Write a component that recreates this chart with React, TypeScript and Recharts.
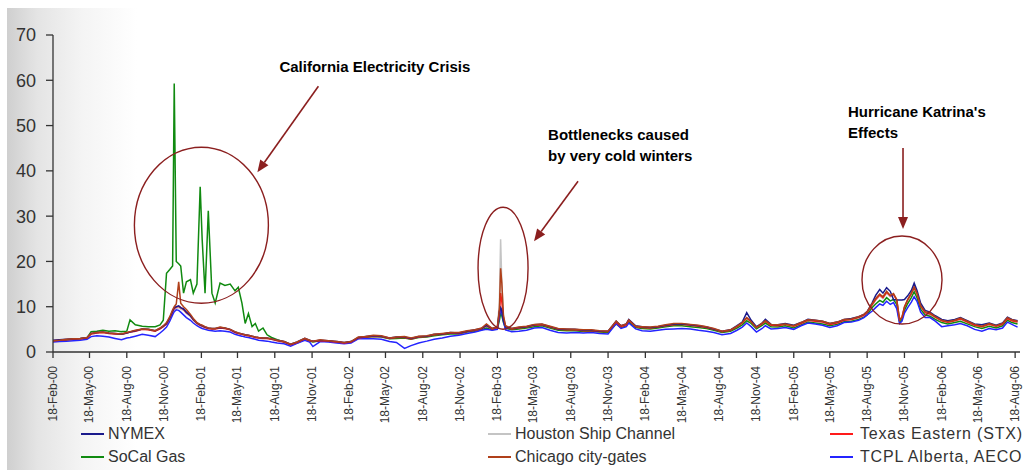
import { LineChart, Line, XAxis, YAxis, Legend, ReferenceDot } from "recharts";

// Sample dates (denser around the price spikes)
const dates = [
  // 2000
  "2000-02-18", "2000-03-05", "2000-03-22", "2000-04-08", "2000-04-25", "2000-05-12", "2000-05-22", "2000-06-05", "2000-06-20",
  "2000-07-05", "2000-07-20", "2000-08-05", "2000-08-18", "2000-08-26", "2000-09-08", "2000-09-25", "2000-10-10", "2000-10-27",
  "2000-11-08", "2000-11-16", "2000-11-24", "2000-12-02", "2000-12-09", "2000-12-13", "2000-12-18", "2000-12-24", "2000-12-29",
  // 2001
  "2001-01-05", "2001-01-12", "2001-01-22", "2001-01-29", "2001-02-07", "2001-02-15", "2001-02-20", "2001-02-27", "2001-03-07",
  "2001-03-16", "2001-03-24", "2001-04-05", "2001-04-17", "2001-04-30", "2001-05-12", "2001-05-20", "2001-05-29", "2001-06-06",
  "2001-06-14", "2001-06-23", "2001-07-01", "2001-07-09", "2001-07-20", "2001-07-30", "2001-08-10", "2001-08-24", "2001-09-10",
  "2001-09-26", "2001-10-12", "2001-10-31", "2001-11-12", "2001-11-20", "2001-12-08", "2001-12-28",
  // 2002
  "2002-01-18", "2002-02-05", "2002-02-22", "2002-03-12", "2002-03-30", "2002-04-18", "2002-05-08", "2002-05-28", "2002-06-14",
  "2002-07-04", "2002-07-20", "2002-08-08", "2002-08-28", "2002-09-15", "2002-10-05", "2002-10-25", "2002-11-15", "2002-12-05",
  "2002-12-25",
  // 2003
  "2003-01-10", "2003-01-22", "2003-02-05", "2003-02-18", "2003-02-23", "2003-02-26", "2003-03-01", "2003-03-05", "2003-03-10",
  "2003-03-25", "2003-04-12", "2003-05-01", "2003-05-20", "2003-06-08", "2003-06-28", "2003-07-18", "2003-08-08", "2003-08-28",
  "2003-09-18", "2003-10-08", "2003-10-28", "2003-11-18", "2003-12-08", "2003-12-20",
  // 2004
  "2004-01-02", "2004-01-08", "2004-01-25", "2004-02-10", "2004-03-01", "2004-03-20", "2004-04-08", "2004-04-28", "2004-05-18",
  "2004-06-08", "2004-06-28", "2004-07-18", "2004-08-05", "2004-08-25", "2004-09-15", "2004-10-01", "2004-10-14", "2004-10-25",
  "2004-11-05", "2004-11-18", "2004-12-02", "2004-12-10", "2004-12-24",
  // 2005
  "2005-01-10", "2005-01-28", "2005-02-18", "2005-03-08", "2005-03-25", "2005-04-12", "2005-04-30", "2005-05-18", "2005-06-05",
  "2005-06-22", "2005-07-10", "2005-07-28", "2005-08-10", "2005-08-18", "2005-08-30", "2005-09-08", "2005-09-18", "2005-09-26",
  "2005-10-05", "2005-10-14", "2005-10-22", "2005-10-30", "2005-11-06", "2005-11-12", "2005-11-18", "2005-11-26", "2005-12-05",
  "2005-12-12", "2005-12-19", "2005-12-28",
  // 2006
  "2006-01-08", "2006-01-20", "2006-02-02", "2006-02-18", "2006-03-05", "2006-03-22", "2006-04-05", "2006-04-22", "2006-05-10",
  "2006-05-28", "2006-06-15", "2006-07-02", "2006-07-18", "2006-07-30", "2006-08-10", "2006-08-24",
];

// $/MMBtu by hub
const nymex = [
  2.6, 2.7, 2.8, 2.9, 3.0, 3.2, 4.1, 4.3, 4.4, 4.2, 4.1, 3.9, 4.2, 4.4, 4.7, 5.1, 5.0, 4.7, 5.2, 5.7, 6.3, 7.6, 9.0, 9.8, 10.0, 10.2, 9.8,
  9.5, 8.8, 8.0, 7.2, 6.4, 6.0, 5.8, 5.5, 5.3, 5.2, 5.2, 5.4, 5.3, 5.0, 4.4, 4.2, 4.0, 3.8, 3.7, 3.5, 3.3, 3.2, 3.1, 3.1, 2.9, 2.6, 2.3, 1.7, 2.2, 3.0, 2.6, 2.4, 2.6, 2.5,
  2.3, 2.1, 2.3, 3.2, 3.4, 3.6, 3.5, 3.1, 3.3, 3.3, 3.0, 3.4, 3.5, 3.9, 4.0, 4.3, 4.2, 4.6, 4.9,
  5.2, 5.9, 5.2, 5.5, 9.0, 9.8, 9.2, 7.0, 5.6, 5.2, 5.4, 5.6, 6.0, 6.1, 5.6, 5.1, 5.0, 5.0, 4.8, 4.8, 4.6, 4.6, 6.8, 5.8,
  6.2, 7.2, 5.8, 5.6, 5.4, 5.6, 5.9, 6.1, 6.2, 6.0, 5.8, 5.5, 5.1, 4.6, 4.9, 5.8, 6.6, 8.7, 7.0, 5.6, 6.4, 7.2, 6.1,
  6.0, 6.3, 5.9, 6.5, 7.2, 7.0, 6.8, 6.3, 6.6, 7.2, 7.4, 7.8, 8.3, 8.9, 10.8, 12.5, 13.8, 13.0, 14.2, 13.4, 11.6, 11.5, 11.5, 11.5, 11.6, 12.4, 13.6, 15.2, 13.6, 10.8,
  9.2, 8.8, 8.0, 7.2, 6.9, 7.2, 7.6, 6.9, 6.2, 6.0, 6.4, 5.9, 6.4, 7.7, 7.2, 6.9,
];

const houston = [
  2.5, 2.6, 2.7, 2.8, 2.9, 3.1, 4.0, 4.2, 4.3, 4.1, 4.0, 3.9, 4.2, 4.4, 4.6, 5.0, 4.9, 4.6, 5.1, 5.6, 6.2, 7.4, 8.7, 9.4, 9.6, 9.8, 9.5,
  9.2, 8.5, 7.8, 7.0, 6.2, 5.8, 5.6, 5.3, 5.1, 5.0, 5.1, 5.3, 5.2, 4.9, 4.3, 4.1, 3.9, 3.7, 3.6, 3.4, 3.2, 3.1, 3.0, 3.0, 2.8, 2.5, 2.2, 1.6, 2.1, 2.9, 2.5, 2.3, 2.5, 2.4,
  2.2, 2.0, 2.2, 3.1, 3.3, 3.5, 3.4, 3.0, 3.2, 3.2, 2.9, 3.3, 3.4, 3.8, 3.9, 4.2, 4.1, 4.5, 4.8,
  5.1, 5.6, 5.1, 5.4, 11.0, 24.9, 15.0, 8.0, 5.8, 5.1, 5.3, 5.5, 5.9, 6.0, 5.5, 5.0, 4.9, 4.9, 4.7, 4.7, 4.5, 4.5, 6.6, 5.6,
  6.0, 7.0, 5.6, 5.4, 5.3, 5.5, 5.8, 6.0, 6.1, 5.9, 5.7, 5.4, 5.0, 4.5, 4.8, 5.6, 6.4, 7.4, 6.6, 5.4, 6.2, 6.7, 5.9,
  5.8, 6.1, 5.7, 6.3, 7.0, 6.8, 6.6, 6.1, 6.4, 7.0, 7.2, 7.6, 8.1, 8.7, 10.2, 11.4, 12.4, 11.8, 13.0, 12.2, 12.6, 11.4, 7.0, 7.6, 9.8, 11.4, 12.8, 14.2, 12.8, 10.0,
  8.6, 8.3, 7.6, 6.9, 6.6, 6.9, 7.2, 6.6, 5.9, 5.6, 6.1, 5.7, 6.1, 7.4, 6.9, 6.6,
];

const texasEastern = [
  2.5, 2.6, 2.7, 2.8, 2.9, 3.1, 4.0, 4.2, 4.3, 4.1, 4.0, 3.9, 4.2, 4.4, 4.6, 5.0, 4.9, 4.6, 5.1, 5.6, 6.2, 7.5, 8.9, 9.6, 9.9, 10.1, 9.8,
  9.4, 8.7, 8.0, 7.1, 6.3, 5.9, 5.7, 5.4, 5.2, 5.1, 5.1, 5.3, 5.2, 4.9, 4.3, 4.1, 3.9, 3.7, 3.6, 3.4, 3.2, 3.1, 3.0, 3.0, 2.8, 2.5, 2.2, 1.6, 2.1, 2.9, 2.5, 2.3, 2.5, 2.4,
  2.2, 2.0, 2.2, 3.1, 3.3, 3.5, 3.4, 3.0, 3.2, 3.2, 2.9, 3.3, 3.4, 3.8, 3.9, 4.2, 4.1, 4.5, 4.8,
  5.1, 5.8, 5.1, 5.4, 8.5, 13.0, 11.0, 7.5, 5.7, 5.1, 5.3, 5.5, 5.9, 6.0, 5.5, 5.0, 4.9, 4.9, 4.7, 4.7, 4.5, 4.5, 6.6, 5.6,
  6.0, 7.0, 5.6, 5.4, 5.3, 5.5, 5.8, 6.0, 6.1, 5.9, 5.7, 5.4, 5.0, 4.5, 4.8, 5.6, 6.4, 7.5, 6.7, 5.4, 6.2, 6.8, 5.9,
  5.8, 6.1, 5.7, 6.3, 7.0, 6.8, 6.6, 6.1, 6.4, 7.0, 7.2, 7.6, 8.1, 8.7, 10.4, 11.6, 12.6, 12.0, 13.2, 12.4, 12.7, 11.5, 7.1, 7.7, 9.9, 11.5, 12.9, 14.3, 12.9, 10.1,
  8.7, 8.4, 7.7, 6.9, 6.6, 6.9, 7.3, 6.6, 5.9, 5.6, 6.1, 5.7, 6.1, 7.4, 6.9, 6.6,
];

const socal = [
  2.4, 2.5, 2.6, 2.8, 2.9, 3.1, 4.5, 4.6, 4.8, 4.6, 4.7, 4.5, 4.6, 7.1, 6.0, 5.7, 5.6, 5.6, 6.0, 7.0, 17.4, 18.2, 19.0, 59.3, 20.0, 19.5, 19.0,
  13.0, 15.5, 16.0, 13.0, 15.0, 36.5, 24.7, 13.0, 31.2, 13.0, 10.8, 15.2, 14.7, 15.0, 13.5, 14.3, 10.8, 6.3, 8.5, 5.6, 6.3, 4.6, 5.3, 3.8, 3.2, 2.7, 2.2, 1.6, 2.0, 2.8, 2.4, 2.2, 2.5, 2.4,
  2.2, 2.0, 2.2, 3.0, 3.2, 3.4, 3.3, 2.9, 3.0, 3.1, 2.8, 3.2, 3.3, 3.6, 3.8, 4.0, 4.0, 4.4, 4.6,
  4.9, 5.3, 4.9, 5.1, 7.0, 8.5, 8.0, 6.5, 5.3, 4.9, 5.1, 5.3, 5.6, 5.8, 5.3, 4.8, 4.7, 4.7, 4.5, 4.6, 4.4, 4.3, 6.2, 5.4,
  5.8, 6.6, 5.4, 5.2, 5.1, 5.3, 5.6, 5.8, 5.8, 5.6, 5.4, 5.2, 4.8, 4.3, 4.6, 5.3, 6.0, 6.9, 6.3, 5.1, 5.9, 6.4, 5.6,
  5.5, 5.8, 5.3, 6.0, 6.6, 6.4, 6.2, 5.8, 6.1, 6.7, 6.8, 7.2, 7.7, 8.2, 9.8, 10.6, 11.4, 11.0, 12.0, 11.3, 11.6, 10.5, 6.6, 7.2, 9.2, 10.7, 12.0, 13.3, 12.0, 9.4,
  8.2, 7.9, 7.2, 6.5, 6.2, 6.5, 6.8, 6.2, 5.6, 5.2, 5.7, 5.3, 5.8, 7.0, 6.5, 6.2,
];

const chicago = [
  2.5, 2.6, 2.8, 2.9, 3.0, 3.2, 4.1, 4.3, 4.4, 4.2, 4.1, 4.0, 4.3, 4.5, 4.8, 5.1, 5.0, 4.7, 5.3, 5.8, 6.5, 7.8, 9.3, 10.0, 10.6, 15.5, 10.8,
  10.0, 9.4, 8.3, 7.4, 6.5, 6.1, 5.9, 5.6, 5.3, 5.2, 5.2, 5.5, 5.3, 5.0, 4.5, 4.2, 4.0, 3.8, 3.7, 3.5, 3.3, 3.2, 3.1, 3.1, 2.9, 2.6, 2.3, 1.7, 2.2, 3.0, 2.6, 2.4, 2.7, 2.5,
  2.3, 2.1, 2.3, 3.3, 3.4, 3.7, 3.6, 3.1, 3.3, 3.4, 3.1, 3.5, 3.6, 3.9, 4.1, 4.3, 4.3, 4.7, 4.9,
  5.3, 6.2, 5.2, 5.5, 9.5, 18.5, 15.2, 8.0, 5.8, 5.2, 5.5, 5.7, 6.1, 6.2, 5.7, 5.2, 5.1, 5.0, 4.9, 4.9, 4.7, 4.6, 6.8, 5.8,
  6.2, 7.1, 5.7, 5.6, 5.5, 5.7, 6.0, 6.3, 6.3, 6.1, 5.9, 5.6, 5.2, 4.6, 4.9, 5.7, 6.5, 7.6, 6.7, 5.4, 6.4, 6.9, 6.1,
  6.0, 6.2, 5.8, 6.5, 7.1, 7.0, 6.8, 6.3, 6.6, 7.2, 7.3, 7.8, 8.3, 8.9, 10.6, 11.8, 12.8, 12.2, 13.4, 12.5, 12.9, 11.6, 7.0, 7.7, 10.0, 11.6, 13.0, 14.3, 13.0, 10.2,
  8.9, 8.6, 7.8, 7.0, 6.7, 7.0, 7.5, 6.8, 6.1, 5.7, 6.3, 5.8, 6.3, 7.6, 7.1, 6.8,
];

const aeco = [
  2.2, 2.3, 2.4, 2.5, 2.6, 2.8, 3.4, 3.6, 3.5, 3.3, 3.0, 2.7, 3.1, 3.2, 3.5, 3.9, 3.7, 3.4, 4.2, 4.8, 5.5, 6.8, 8.2, 8.9, 9.3, 9.2, 8.8,
  8.2, 7.6, 7.0, 6.4, 5.8, 5.4, 5.2, 5.0, 4.8, 4.7, 4.6, 4.7, 4.6, 4.4, 3.9, 3.7, 3.5, 3.3, 3.2, 3.0, 2.8, 2.6, 2.5, 2.4, 2.2, 2.0, 1.8, 1.3, 1.9, 2.6, 2.2, 1.2, 2.3, 2.2,
  2.0, 1.8, 2.0, 2.9, 3.0, 2.9, 2.8, 2.3, 2.1, 0.8, 1.4, 2.0, 2.4, 2.8, 3.1, 3.5, 3.7, 4.1, 4.4,
  4.8, 5.0, 4.8, 5.0, 7.8, 9.6, 8.6, 6.8, 4.9, 4.5, 4.6, 4.8, 5.3, 5.4, 4.8, 4.3, 4.2, 4.3, 4.2, 4.3, 4.1, 4.0, 6.3, 5.2,
  5.6, 6.4, 5.1, 4.7, 4.6, 4.8, 5.0, 5.1, 5.2, 5.1, 4.8, 4.6, 4.3, 3.8, 4.1, 4.8, 5.5, 6.4, 5.6, 4.4, 5.2, 5.8, 5.1,
  5.2, 5.4, 5.0, 5.8, 6.4, 6.2, 5.9, 5.4, 5.8, 6.5, 6.6, 7.0, 7.6, 8.2, 9.0, 9.8, 10.6, 10.3, 11.2, 10.5, 10.9, 9.6, 6.3, 6.8, 8.6, 9.8, 11.0, 12.2, 11.2, 8.8,
  7.6, 7.6, 6.8, 5.6, 5.8, 6.0, 6.3, 5.8, 5.0, 4.6, 5.2, 4.9, 5.3, 6.6, 6.1, 5.5,
];

const tickDates = [
  "2000-02-18", "2000-05-18", "2000-08-18", "2000-11-18", "2001-02-18", "2001-05-18", "2001-08-18", "2001-11-18",
  "2002-02-18", "2002-05-18", "2002-08-18", "2002-11-18", "2003-02-18", "2003-05-18", "2003-08-18", "2003-11-18",
  "2004-02-18", "2004-05-18", "2004-08-18", "2004-11-18", "2005-02-18", "2005-05-18", "2005-08-18", "2005-11-18",
  "2006-02-18", "2006-05-18", "2006-08-18",
];

const yTicks = [0, 10, 20, 30, 40, 50, 60, 70];

const MONTHS = ["Jan", "Feb", "Mar", "Apr", "May", "Jun", "Jul", "Aug", "Sep", "Oct", "Nov", "Dec"];
const FONT = "Arial, 'Liberation Sans', Helvetica, sans-serif";
const ARROW = "#8b1f1f";

const toTime = (d: string) => Date.parse(d + "T00:00:00Z");
const fmtDate = (t: number) => {
  const d = new Date(t);
  return `${d.getUTCDate()}-${MONTHS[d.getUTCMonth()]}-${String(d.getUTCFullYear()).slice(2)}`;
};

// legend order (row by row, three per row)
const series = [
  { key: "nymex", name: "NYMEX", color: "#1a1a8c", values: nymex },
  { key: "houston", name: "Houston Ship Channel", color: "#c4c4c4", values: houston },
  { key: "texasEastern", name: "Texas Eastern (STX)", color: "#ff1a1a", values: texasEastern },
  { key: "socal", name: "SoCal Gas", color: "#108a10", values: socal },
  { key: "chicago", name: "Chicago city-gates", color: "#b0401a", values: chicago },
  { key: "aeco", name: "TCPL Alberta, AECO", color: "#2424ff", values: aeco },
];

// draw order, bottom to top
const drawOrder = ["houston", "socal", "aeco", "texasEastern", "nymex", "chicago"];

const data = dates.map((d, i) => {
  const row: Record<string, number> = { t: toTime(d) };
  series.forEach((s) => {
    row[s.key] = s.values[i];
  });
  return row;
});

const callouts = [
  {
    at: "2001-02-18", value: 28, rx: 67, ry: 78,
    from: [117, -139], to: [56, -53],
    text: [78, -153], lines: ["California Electricity Crisis"],
  },
  {
    at: "2003-03-04", value: 18.5, rx: 25, ry: 61,
    from: [75, -87], to: [31, -27],
    text: [45, -128], lines: ["Bottlenecks caused", "by very cold winters"],
  },
  {
    at: "2005-11-12", value: 15.9, rx: 40, ry: 44,
    from: [1, -132], to: [1, -51],
    text: [-54, -163], lines: ["Hurricane Katrina's", "Effects"],
  },
];

function Callout({ cx, cy, c }: any) {
  const [fx, fy] = c.from;
  const [tx, ty] = c.to;
  const ang = Math.atan2(ty - fy, tx - fx);
  const len = 12;
  const half = 5;
  const bx = tx - len * Math.cos(ang);
  const by = ty - len * Math.sin(ang);
  const head = [
    [cx + tx, cy + ty],
    [cx + bx - half * Math.sin(ang), cy + by + half * Math.cos(ang)],
    [cx + bx + half * Math.sin(ang), cy + by - half * Math.cos(ang)],
  ]
    .map((p) => p.join(","))
    .join(" ");
  return (
    <g>
      <ellipse cx={cx} cy={cy} rx={c.rx} ry={c.ry} fill="none" stroke={ARROW} strokeWidth={1.4} />
      <line x1={cx + fx} y1={cy + fy} x2={cx + bx} y2={cy + by} stroke={ARROW} strokeWidth={1.6} />
      <polygon points={head} fill={ARROW} />
      <text fontFamily={FONT} fontSize={15} fontWeight="bold" fill="#000">
        {c.lines.map((l: string, i: number) => (
          <tspan key={l} x={cx + c.text[0]} y={cy + c.text[1] + i * 21}>
            {l}
          </tspan>
        ))}
      </text>
    </g>
  );
}

function DateTick({ x, y, payload }: any) {
  return (
    <text
      x={x}
      y={y}
      dy={4}
      transform={`rotate(-90, ${x}, ${y})`}
      textAnchor="end"
      fontFamily={FONT}
      fontSize={12}
      fill="#333"
    >
      {fmtDate(payload.value)}
    </text>
  );
}

// third legend column is set a little wider
const legendCols = [
  { width: 407, gap: 4, spacing: 0 },
  { width: 342, gap: 4, spacing: 0 },
  { width: 200, gap: 7, spacing: 0.8 },
];

function LegendGrid() {
  return (
    <div
      style={{
        width: 1030,
        height: 48,
        boxSizing: "border-box",
        paddingTop: 2,
        paddingLeft: 81,
        display: "grid",
        gridTemplateColumns: legendCols.map((c) => `${c.width}px`).join(" "),
        gridTemplateRows: "23px 23px",
        fontFamily: FONT,
        fontSize: 16,
        color: "#333",
      }}
    >
      {series.map((s, i) => {
        const col = legendCols[i % 3];
        return (
          <div key={s.key} style={{ display: "flex", alignItems: "center", whiteSpace: "nowrap", letterSpacing: col.spacing }}>
            <span style={{ display: "inline-block", width: 23, height: 2, background: s.color, marginRight: col.gap }} />
            {s.name}
          </div>
        );
      })}
    </div>
  );
}

export default function App() {
  return (
    <div style={{ position: "absolute", left: 0, top: 0, width: 1030, height: 470, background: "#fff" }}>
      <div
        style={{
          position: "absolute",
          left: 7,
          top: 8,
          right: 0,
          bottom: 0,
          background: "linear-gradient(to right, #cfcfcf 0px, #e4e4e4 30px, #f4f4f4 75px, #ffffff 130px)",
        }}
      />
      <LineChart
        width={1030}
        height={470}
        data={data}
        margin={{ top: 35, right: 10, left: 0, bottom: 2 }}
        style={{ position: "absolute", left: 0, top: 0 }}
      >
        <XAxis
          dataKey="t"
          type="number"
          domain={[toTime("2000-02-18"), toTime("2006-08-30")]}
          ticks={tickDates.map(toTime)}
          interval={0}
          height={68}
          tickSize={6}
          tickMargin={8}
          tick={<DateTick />}
          stroke="#333"
          strokeWidth={1.3}
        />
        <YAxis
          domain={[0, 70]}
          ticks={yTicks}
          width={53}
          tickSize={7}
          tickMargin={10}
          tick={{ fontSize: 18, fill: "#333", fontFamily: FONT }}
          stroke="#333"
          strokeWidth={1.3}
        />
        {drawOrder.map((k) => {
          const s = series.find((x) => x.key === k)!;
          return (
            <Line
              key={k}
              dataKey={k}
              name={s.name}
              type="linear"
              stroke={s.color}
              strokeWidth={1.5}
              dot={false}
              activeDot={false}
              isAnimationActive={false}
            />
          );
        })}
        {callouts.map((c) => (
          <ReferenceDot
            key={c.at}
            x={toTime(c.at)}
            y={c.value}
            r={0}
            ifOverflow="visible"
            shape={(p: any) => <Callout cx={p.cx} cy={p.cy} c={c} />}
          />
        ))}
        <Legend verticalAlign="bottom" content={() => <LegendGrid />} />
      </LineChart>
    </div>
  );
}
